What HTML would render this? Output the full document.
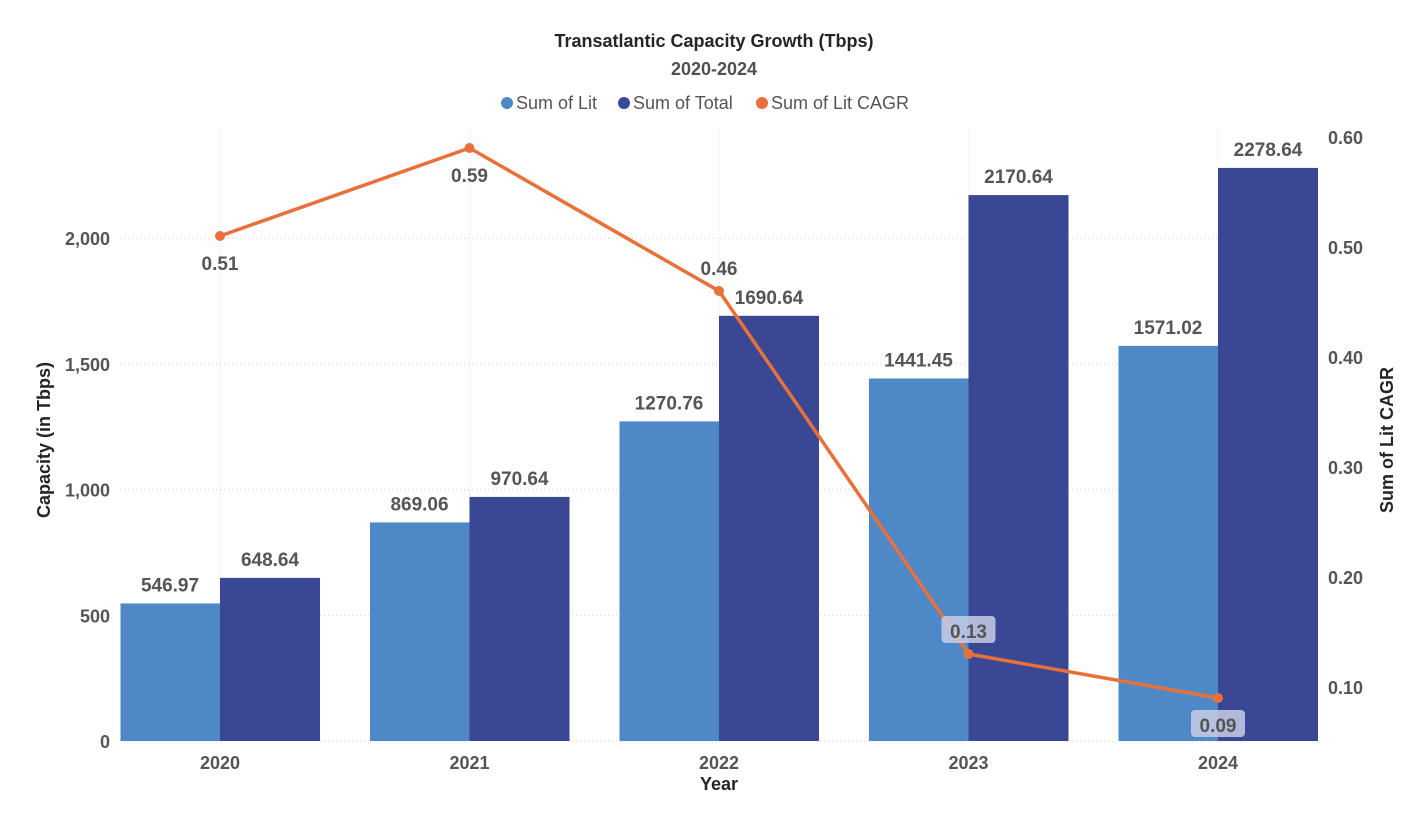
<!DOCTYPE html>
<html><head><meta charset="utf-8"><style>
body{margin:0;background:#fff;}
svg{display:block;font-family:"Liberation Sans",sans-serif;}
</style></head><body>
<svg id="chart" width="1427" height="825">
<text x="714" y="47" text-anchor="middle" font-size="18" font-weight="bold" fill="#252525">Transatlantic Capacity Growth (Tbps)</text>
<text x="714" y="75" text-anchor="middle" font-size="18" font-weight="bold" fill="#505050">2020-2024</text>
<g font-size="18" fill="#555">
<g><circle cx="507" cy="103" r="6" fill="#4E88C7"/><text x="516" y="109">Sum of Lit</text></g>
<g><circle cx="624" cy="103" r="6" fill="#3A4795"/><text x="633" y="109">Sum of Total</text></g>
<g><circle cx="762" cy="103" r="6" fill="#E8703A"/><text x="771" y="109">Sum of Lit CAGR</text></g>
</g>
<text transform="translate(50,440) rotate(-90)" text-anchor="middle" font-size="18" font-weight="bold" fill="#252525">Capacity (in Tbps)</text>
<text transform="translate(1393,440) rotate(-90)" text-anchor="middle" font-size="18" font-weight="bold" fill="#252525">Sum of Lit CAGR</text>
<text x="719" y="790" text-anchor="middle" font-size="18" font-weight="bold" fill="#252525">Year</text>
<g id="grid"></g><g id="bars"></g><g id="line"></g><g id="labels"></g>
</svg>
<script>
const years=["2020","2021","2022","2023","2024"];
const lit=[546.97,869.06,1270.76,1441.45,1571.02];
const total=[648.64,970.64,1690.64,2170.64,2278.64];
const cagr=[0.51,0.59,0.46,0.13,0.09];
const leftTicks=[0,500,1000,1500,2000];
const rightTicks=[0.10,0.20,0.30,0.40,0.50,0.60];
const NS="http://www.w3.org/2000/svg";
const y=v=>741-v*0.2515;
const y2=r=>687-(r-0.1)*1100;
const xc=i=>220+i*249.5;
function mk(tag,attrs,parent,txt){const e=document.createElementNS(NS,tag);for(const k in attrs)e.setAttribute(k,attrs[k]);if(txt!==undefined)e.textContent=txt;document.getElementById(parent).appendChild(e);return e;}
leftTicks.forEach(t=>{
  const l=mk('line',{x1:120,x2:1318,y1:y(t),y2:y(t),stroke:'#ccc','stroke-dasharray':'1,3'},'grid');
  
  
  const tx=mk('text',{x:110,y:y(t)+7,'text-anchor':'end','font-size':18,'font-weight':'bold',fill:'#555'},'grid',t.toLocaleString('en-US'));
  
  
});
rightTicks.forEach(t=>{
  const tx=mk('text',{x:1328,y:y2(t)+7,'font-size':18,'font-weight':'bold',fill:'#555'},'grid',t.toFixed(2));
  
  
});
years.forEach((yr,i)=>{
  const v=mk('line',{x1:xc(i),x2:xc(i),y1:130,y2:741,stroke:'#ddd','stroke-dasharray':'1,3'},'grid');
  
  
  const tx=mk('text',{x:xc(i),y:769,'text-anchor':'middle','font-size':18,'font-weight':'bold',fill:'#555'},'grid',yr);
  
  
  const b1=mk('rect',{x:xc(i)-99.5,y:y(lit[i]),width:99.5,height:741-y(lit[i]),fill:'#4E88C7'},'bars');
  
  
  const b2=mk('rect',{x:xc(i),y:y(total[i]),width:100,height:741-y(total[i]),fill:'#3A4795'},'bars');
  
  
  const l1=mk('text',{x:xc(i)-50,y:y(lit[i])-12,'text-anchor':'middle','font-size':19,'font-weight':'bold',fill:'#555'},'labels',lit[i].toFixed(2));
  
  
  const l2=mk('text',{x:xc(i)+50,y:y(total[i])-12,'text-anchor':'middle','font-size':19,'font-weight':'bold',fill:'#555'},'labels',total[i].toFixed(2));
  
  
});
const pts=cagr.map((r,i)=>xc(i)+','+y2(r)).join(' ');
const pl=mk('polyline',{points:pts,fill:'none',stroke:'#E8703A','stroke-width':3.5},'line');


const below=[true,true,false,false,true];
const boxed=[false,false,false,true,true];
cagr.forEach((r,i)=>{
  const c=mk('circle',{cx:xc(i),cy:y2(r),r:5,fill:'#E8703A'},'line');
  
  
  const ly=below[i]?y2(r)+34:y2(r)-16;
  if(boxed[i]){
    const bx=mk('rect',{x:xc(i)-27,y:ly-22,width:54,height:27,rx:4,fill:'#c8cde6','fill-opacity':0.85},'labels');
    
    
  }
  const t=mk('text',{x:xc(i),y:ly,'text-anchor':'middle','font-size':19,'font-weight':'bold',fill:'#555'},'labels',r.toFixed(2));
  
  
});
</script>
</body></html>
